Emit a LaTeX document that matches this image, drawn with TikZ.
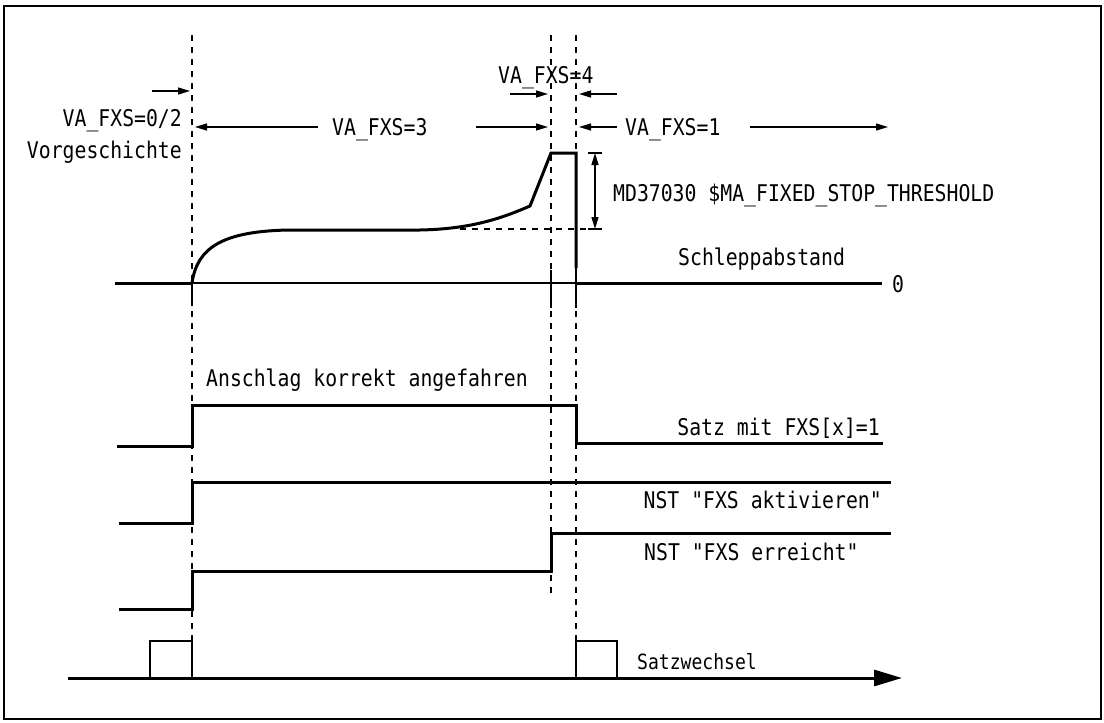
\documentclass[tikz,border=0pt]{standalone}
\usepackage{fontspec}
\newfontfamily\diafont[FakeStretch=0.86]{DejaVu Sans Mono}
\usetikzlibrary{arrows.meta}
\begin{document}
\begin{tikzpicture}[x=1pt,y=-1pt,
  thick line/.style={line width=3pt, line join=miter},
  thin line/.style={line width=1.4pt},
  guide/.style={line width=1.2pt, dash pattern=on 6pt off 6pt},
  dimarrow/.style={line width=1.3pt, -{Triangle[length=12pt,width=7pt]}},
  lbl/.style={inner sep=0pt, font=\diafont\fontsize{23}{23}\selectfont},
  smalllbl/.style={inner sep=0pt, font=\diafont\fontsize{21}{21}\selectfont}]
\useasboundingbox (0,0) rectangle (1104,723);
\draw[line width=1.6pt] (4,6) rectangle (1101,719);

% guide lines
\coordinate (g1t) at (192,35); \coordinate (g1b) at (192,641);
\coordinate (g2t) at (551,35); \coordinate (g2b) at (551,595);
\coordinate (g3t) at (576,35); \coordinate (g3b) at (576,641);
\draw[guide] (g1t) -- (g1b);
\draw[guide] (g2t) -- (g2b);
\draw[guide] (g3t) -- (g3b);

% top labels and arrows
\node[lbl, anchor=base east] (va02) at (182,126) {VA\_FXS=0/2};
\node[lbl, anchor=base east] (vorg) at (182,158) {Vorgeschichte};
\coordinate (a0s) at (152,91); \coordinate (a0e) at (190,91);
\draw[dimarrow] (a0s) -- (a0e);

\node[lbl, anchor=base west] (va3) at (332,135) {VA\_FXS=3};
\coordinate (a3l) at (195,127); \coordinate (a3ls) at (318,127);
\coordinate (a3r) at (548,127); \coordinate (a3rs) at (476,127);
\draw[dimarrow] (a3ls) -- (a3l);
\draw[dimarrow] (a3rs) -- (a3r);

\node[lbl, anchor=base west] (va4) at (498,83) {VA\_FXS=4};
\coordinate (a4ls) at (510,94); \coordinate (a4l) at (548,94);
\coordinate (a4rs) at (617,94); \coordinate (a4r) at (579,94);
\draw[dimarrow] (a4ls) -- (a4l);
\draw[dimarrow] (a4rs) -- (a4r);

\node[lbl, anchor=base west] (va1) at (625,135) {VA\_FXS=1};
\coordinate (a1ls) at (617,127); \coordinate (a1l) at (579,127);
\coordinate (a1rs) at (750,127); \coordinate (a1r) at (888,127);
\draw[dimarrow] (a1ls) -- (a1l);
\draw[dimarrow] (a1rs) -- (a1r);

% following error curve
\draw[thick line] (192,283) .. controls (197,248) and (222,231) .. (290,230)
  -- (420,230) .. controls (470,229) and (500,219) .. (530,206)
  -- (551,153) -- (576,153) -- (576,268);
\draw[guide] (460,229) -- (600,229);
\coordinate (mt) at (595,153); \coordinate (mb) at (595,229);
\draw[line width=1.3pt, {Triangle[length=12pt,width=7pt]}-{Triangle[length=12pt,width=7pt]}] (mt) -- (mb);
\draw[line width=1.3pt] (588,153) -- (602,153) (588,229) -- (602,229);
\node[lbl, anchor=base west] (md) at (613,201) {MD37030 \$MA\_FIXED\_STOP\_THRESHOLD};
\node[lbl, anchor=base west] (schl) at (678,265) {Schleppabstand};

% zero axis
\draw[thick line] (115,283) -- (192,283);
\draw[thin line] (192,283) -- (576,283);
\draw[thick line] (576,283) -- (882,283);
\node[lbl, anchor=base west] (zero) at (892,292) {0};
\draw[thin line] (192,283) -- (192,306);
\draw[thin line] (551,270) -- (551,308);
\draw[thin line] (576,268) -- (576,308);

% signal 1
\node[lbl, anchor=base west] (ansch) at (206,386) {Anschlag korrekt angefahren};
\draw[thick line] (117,446) -- (192,446) -- (192,405) -- (576,405) -- (576,443) -- (883,443);
\node[lbl, anchor=base east] (satz) at (880,435) {Satz mit FXS[x]=1};

% signal 2
\draw[thick line] (119,523) -- (192,523) -- (192,482) -- (891,482);
\node[lbl, anchor=base east] (akt) at (882,508) {NST "FXS aktivieren"};

% signal 3
\draw[thick line] (119,609) -- (192,609) -- (192,571) -- (551,571) -- (551,533) -- (891,533);
\node[lbl, anchor=base west] (err) at (644,560) {NST "FXS erreicht"};

% Satzwechsel
\draw[thick line, -{Triangle[length=28pt,width=16pt]}] (68,678) -- (902,678);
\draw[thin line] (150,678) -- (150,641) -- (192,641) -- (192,678);
\draw[thin line] (576,678) -- (576,641) -- (617,641) -- (617,678);
\node[smalllbl, anchor=base west] (sw) at (637,669) {Satzwechsel};
\end{tikzpicture}
\end{document}
